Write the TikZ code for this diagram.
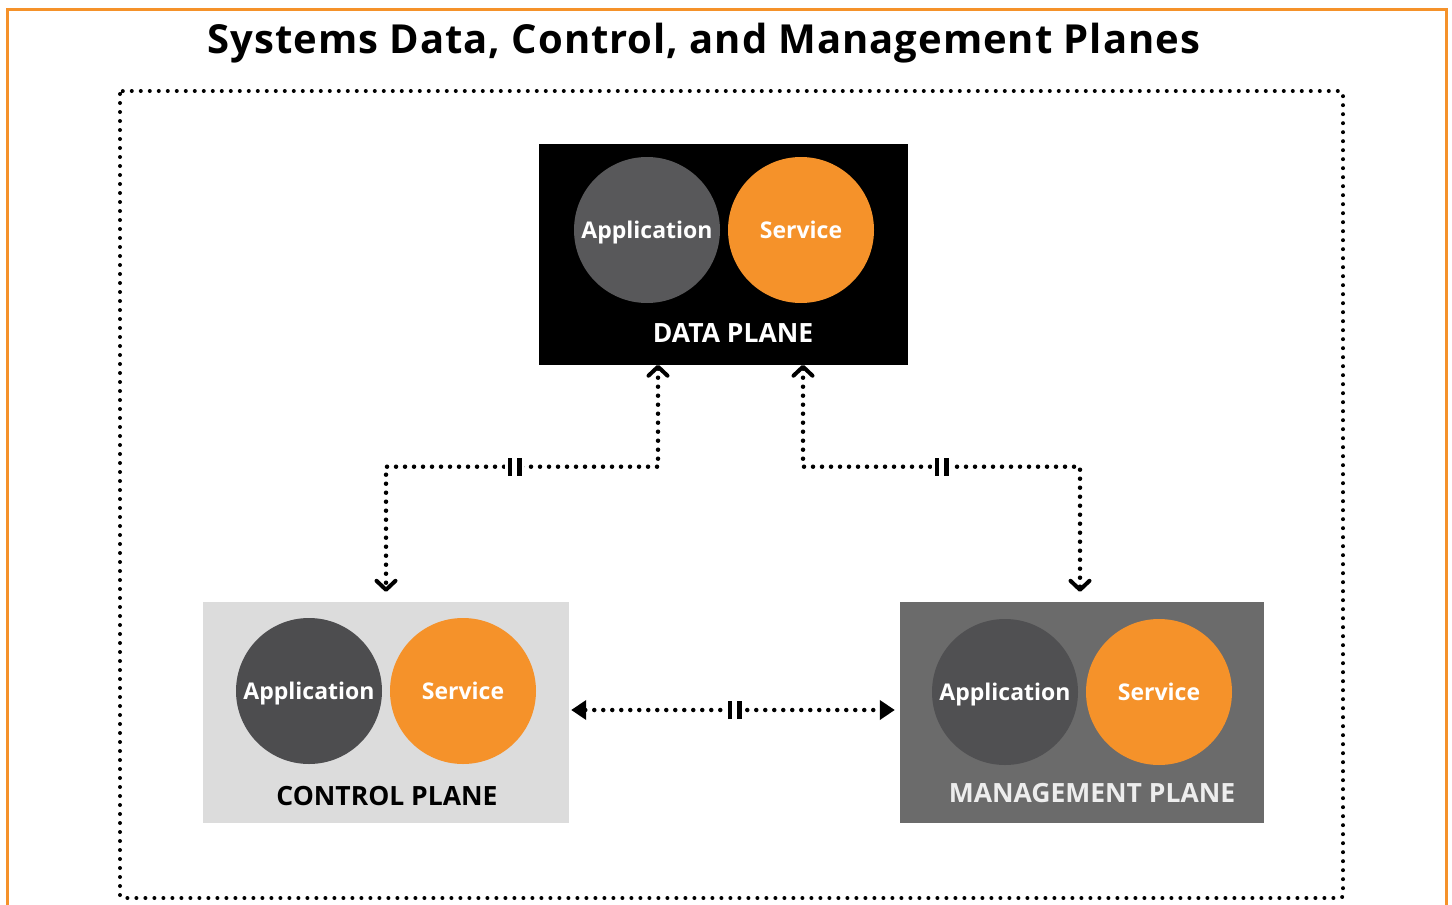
\documentclass[tikz,border=0pt]{standalone}
\usepackage{fontspec}
\setmainfont{Open Sans}
\usetikzlibrary{arrows.meta}

\definecolor{planeorange}{HTML}{F5922A}
\definecolor{dappgray}{HTML}{58585A}
\definecolor{cappgray}{HTML}{4D4D4F}
\definecolor{mappgray}{HTML}{505052}
\definecolor{ctrlgray}{HTML}{DCDCDC}
\definecolor{mgmtgray}{HTML}{6B6B6B}

\newcommand{\brkbars}{\rule{4.5pt}{18pt}\hspace{5pt}\rule{4.5pt}{18pt}}

\tikzset{
	dotline/.style={line width=4.5pt, line cap=round, dash pattern=on 0pt off 9pt},
	plane/.style={inner sep=0pt, minimum width=#1, minimum height=221pt},
	bubble/.style={circle, inner sep=0pt, minimum size=146pt, text=white,
		text height=16.5pt, text depth=0pt, font=\fontsize{23}{26}\selectfont\bfseries},
	planelbl/.style={anchor=base, font=\fontsize{26.5}{30}\selectfont\bfseries},
	brk/.style={fill=white, inner xsep=2.5pt, inner ysep=0pt},
	barb/.tip={Straight Barb[length=9pt, width=19pt, line width=4pt, round]},
	tri/.tip={Triangle[length=15pt, width=19pt]}
}

\begin{document}
\begin{tikzpicture}[x=1pt,y=-1pt]
\useasboundingbox (0,0) rectangle (1452,905);
% frame and title
\draw[planeorange, line width=3pt] (7,905) -- (7,9) -- (1446,9) -- (1446,905);
\node[anchor=base, font=\fontsize{40}{46}\selectfont\bfseries\addfontfeature{LetterSpace=2.4}]
	(title) at (704,53) {Systems Data, Control, and Management Planes};
\draw[dotline, line width=4pt, rounded corners=3pt] (120,91) rectangle (1343,898);

% the three planes
\node[plane=369pt, fill=black] (data) at (723.5,254) {};
\node[plane=366pt, fill=ctrlgray] (ctrl) at (386,712.5) {};
\node[plane=364pt, fill=mgmtgray] (mgmt) at (1082,712.5) {};

\foreach \n/\cx/\cy/\col in {d/647/230/dappgray, c/309/691/cappgray, m/1005/692/mappgray}{
	\node[bubble, fill=\col] (\n app) at (\cx,\cy) {Application};
	\node[bubble, fill=planeorange] (\n svc) at (\cx+154,\cy) {Service};
	}

\node[planelbl, white] (dlbl) at (733,342) {DATA PLANE};
\node[planelbl, black] (clbl) at (387,805) {CONTROL PLANE};
\node[planelbl, white!93!black] (mlbl) at (1092,802) {MANAGEMENT PLANE};

% links between planes
\draw[dotline, barb-barb, shorten >=10pt] ([xshift=-65.5pt]data.south) -- ++(0,102)
	-| (ctrl.north) node[brk, pos=.263] (brk1) {\brkbars};
\draw[dotline, barb-barb, shorten >=10pt] ([xshift=79.5pt]data.south) -- ++(0,102)
	-| ([xshift=-2pt]mgmt.north) node[brk, pos=.25] (brk2) {\brkbars};
\draw[dotline, tri-tri, shorten <=2pt, shorten >=5pt] ([yshift=2.5pt]ctrl.east)
	-- ([yshift=2.5pt]mgmt.west) node[brk, midway] (brk3) {\brkbars};

\end{tikzpicture}
\end{document}
